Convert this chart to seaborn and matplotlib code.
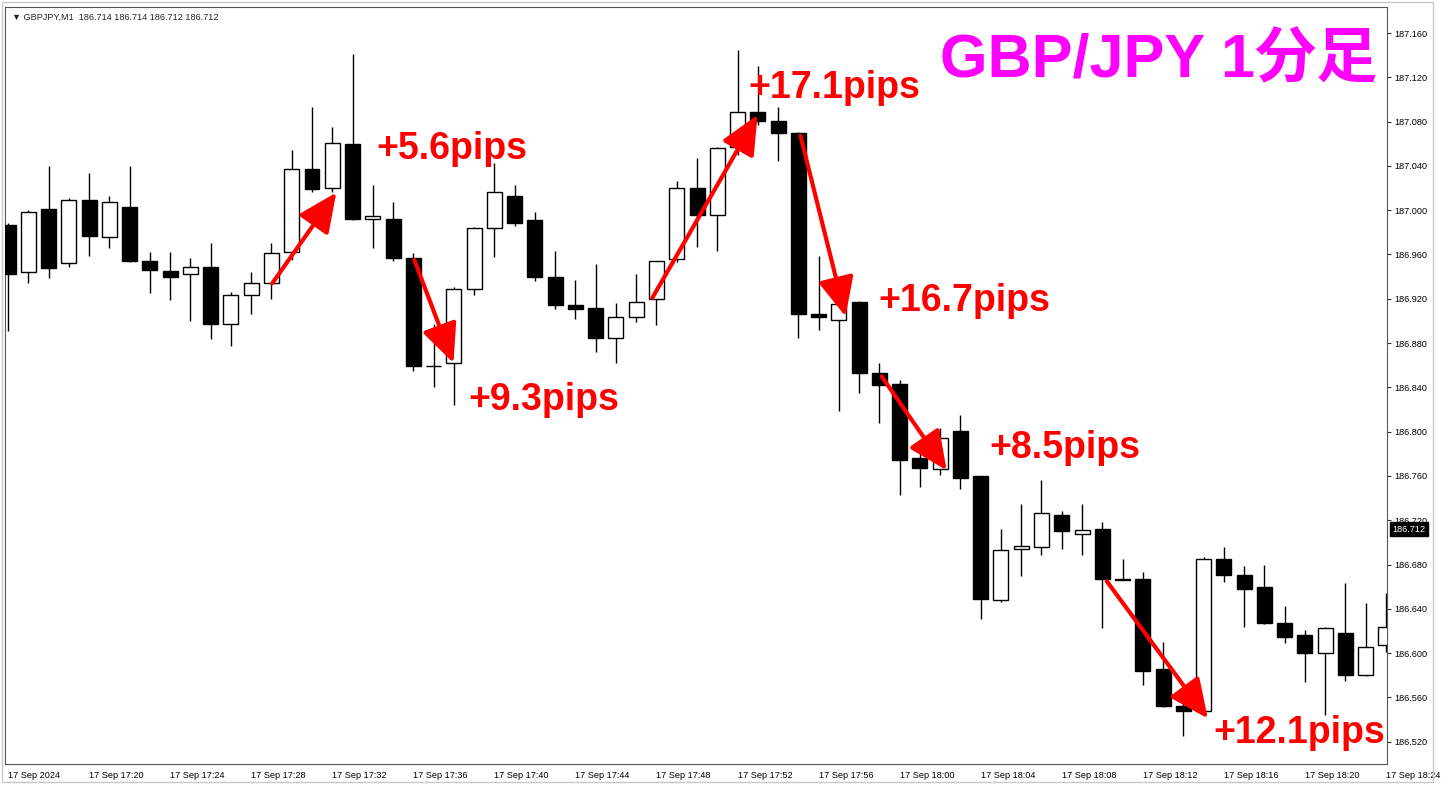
import numpy as np
import matplotlib
matplotlib.use("Agg")
import matplotlib.pyplot as plt
import seaborn as sns
from matplotlib.patches import Rectangle

# GBPJPY M1 bars, 17 Sep 17:16 .. 18:24
opens = [186.987, 186.944, 187.001, 186.952, 187.009, 186.976, 187.003, 186.954, 186.945, 186.942,
         186.949, 186.897, 186.923, 186.934, 186.962, 187.037, 187.020, 187.060, 186.992, 186.992,
         186.957, 186.859, 186.862, 186.929, 186.984, 187.013, 186.991, 186.940, 186.914, 186.912,
         186.885, 186.904, 186.920, 186.956, 187.020, 186.996, 187.057, 187.089, 187.081, 187.070,
         186.906, 186.901, 186.917, 186.853, 186.843, 186.776, 186.766, 186.801, 186.760, 186.648,
         186.694, 186.696, 186.725, 186.708, 186.712, 186.667, 186.667, 186.586, 186.552, 186.548,
         186.685, 186.671, 186.660, 186.627, 186.616, 186.600, 186.618, 186.580, 186.607]
highs = [186.988, 187.000, 187.040, 187.011, 187.034, 187.013, 187.040, 186.962, 186.962, 186.957,
         186.970, 186.926, 186.944, 186.970, 187.054, 187.093, 187.075, 187.141, 187.023, 187.007,
         186.961, 186.897, 186.931, 186.985, 187.043, 187.023, 186.998, 186.963, 186.937, 186.951,
         186.916, 186.942, 186.954, 187.026, 187.047, 187.057, 187.145, 187.130, 187.093, 187.071,
         186.959, 186.916, 186.918, 186.862, 186.847, 186.785, 186.803, 186.815, 186.760, 186.712,
         186.735, 186.756, 186.728, 186.735, 186.718, 186.685, 186.673, 186.610, 186.561, 186.687,
         186.696, 186.679, 186.680, 186.643, 186.621, 186.624, 186.663, 186.645, 186.654]
lows = [186.891, 186.934, 186.939, 186.949, 186.959, 186.966, 186.953, 186.925, 186.919, 186.900,
        186.884, 186.877, 186.906, 186.920, 186.955, 187.016, 187.016, 186.991, 186.966, 186.954,
        186.855, 186.840, 186.824, 186.923, 186.958, 186.986, 186.936, 186.911, 186.902, 186.872,
        186.862, 186.899, 186.896, 186.953, 186.967, 186.963, 187.050, 187.077, 187.044, 186.885,
        186.892, 186.819, 186.835, 186.808, 186.743, 186.750, 186.761, 186.748, 186.631, 186.646,
        186.670, 186.689, 186.694, 186.689, 186.623, 186.666, 186.571, 186.551, 186.525, 186.547,
        186.664, 186.624, 186.626, 186.609, 186.574, 186.544, 186.575, 186.579, 186.601]
closes = [186.942, 186.998, 186.948, 187.009, 186.977, 187.007, 186.954, 186.946, 186.940, 186.949,
          186.897, 186.923, 186.934, 186.961, 187.037, 187.019, 187.061, 186.992, 186.995, 186.957,
          186.859, 186.859, 186.929, 186.984, 187.016, 186.988, 186.940, 186.914, 186.911, 186.885,
          186.904, 186.917, 186.954, 187.020, 186.996, 187.056, 187.089, 187.081, 187.070, 186.906,
          186.904, 186.915, 186.853, 186.842, 186.774, 186.767, 186.794, 186.758, 186.649, 186.693,
          186.697, 186.727, 186.710, 186.711, 186.667, 186.666, 186.584, 186.552, 186.548, 186.685,
          186.671, 186.658, 186.627, 186.615, 186.600, 186.623, 186.580, 186.606, 186.624]

time_labels = ["17 Sep 2024", "17 Sep 17:20", "17 Sep 17:24", "17 Sep 17:28", "17 Sep 17:32",
               "17 Sep 17:36", "17 Sep 17:40", "17 Sep 17:44", "17 Sep 17:48", "17 Sep 17:52",
               "17 Sep 17:56", "17 Sep 18:00", "17 Sep 18:04", "17 Sep 18:08", "17 Sep 18:12",
               "17 Sep 18:16", "17 Sep 18:20", "17 Sep 18:24"]
price_ticks = [186.520, 186.560, 186.600, 186.640, 186.680, 186.720, 186.760, 186.800, 186.840,
               186.880, 186.920, 186.960, 187.000, 187.040, 187.080, 187.120, 187.160]
last_price = 186.712

# move annotations: arrow start/end (bar index, price), label text and its anchor
arrow_from_x = [13.04, 20.05, 31.80, 39.11, 43.11, 54.22]
arrow_from_y = [186.934, 186.955, 186.921, 187.067, 186.850, 186.665]
arrow_to_x = [16.20, 21.98, 36.99, 41.33, 46.32, 59.21]
arrow_to_y = [187.016, 186.862, 187.086, 186.904, 186.765, 186.541]
move_labels = ["+5.6pips", "+9.3pips", "+17.1pips", "+16.7pips", "+8.5pips", "+12.1pips"]
label_x = [18.17, 22.72, 36.54, 42.96, 48.44, 59.46]
label_y = [187.046, 186.820, 187.101, 186.909, 186.776, 186.519]

sns.set_style("white")
plt.rcParams["font.family"] = ["Liberation Sans", "DejaVu Sans"]

W, H = 1453, 794
fig = plt.figure(figsize=(W / 100, H / 100), dpi=100)
ax = fig.add_axes([5 / W, 1 - 764 / H, (1387 - 5) / W, (764 - 7) / H])

o = np.array(opens)
h = np.array(highs)
l = np.array(lows)
c = np.array(closes)
x = np.arange(len(o))
up = c >= o

# wicks then bodies
ax.vlines(x, l, h, color="black", lw=1.0, zorder=2)
body_lo = np.minimum(o, c)
body_h = np.maximum(np.abs(c - o), 0.0006)
ax.bar(x[up], body_h[up], bottom=body_lo[up], width=0.74, color="white",
       edgecolor="black", linewidth=1.0, zorder=3)
ax.bar(x[~up], body_h[~up], bottom=body_lo[~up], width=0.74, color="black",
       edgecolor="black", linewidth=1.0, zorder=3)

ax.set_xlim(-0.15, 68.05)
ax.set_ylim(186.4999, 187.1835)

# axes, MT4 style
ax.yaxis.tick_right()
ax.set_yticks(price_ticks, [f"{p:.3f}" for p in price_ticks])
ax.set_xticks(np.arange(0, len(o), 4), time_labels, ha="left")
ax.tick_params(axis="both", direction="out", length=3, width=0.8, colors="#333333",
               labelsize=6.6, labelcolor="black")
ax.tick_params(axis="y", pad=2)
ax.tick_params(axis="x", pad=2)
for s in ax.spines.values():
    s.set_color("#555555")
    s.set_linewidth(0.8)
ax.grid(False)

ax.annotate(f"{last_price:.3f}", xy=(1.0, last_price), xycoords=("axes fraction", "data"),
            xytext=(4, 0), textcoords="offset points", va="center", ha="left",
            fontsize=6.6, color="white",
            bbox=dict(boxstyle="square,pad=0.25", fc="black", ec="black"),
            annotation_clip=False, zorder=6)

for i in range(len(move_labels)):
    ax.annotate("", xy=(arrow_to_x[i], arrow_to_y[i]), xytext=(arrow_from_x[i], arrow_from_y[i]),
                arrowprops=dict(arrowstyle="-|>,head_length=1.2,head_width=0.55", color="#ff0000",
                                lw=3.0, shrinkA=0, shrinkB=0, mutation_scale=20),
                zorder=5)
    ax.text(label_x[i], label_y[i], move_labels[i], color="#ff0000", fontsize=27,
            fontweight="bold", ha="left", va="baseline", zorder=5)

# header and title
fig.text(12 / W, 1 - 17 / H, "\u25bc GBPJPY,M1  186.714 186.714 186.712 186.712",
         fontsize=6.6, va="center", ha="left", family=["Liberation Sans", "DejaVu Sans"])
fig.text(940 / W, 1 - 62 / H, "GBP/JPY 1分足", color="#ff00ff", fontsize=44,
         fontweight="bold", va="center", ha="left",
         family=["Liberation Sans", "Noto Sans CJK JP"])

# light window frame around chart + price scale
fig.patches.append(Rectangle((2 / W, 1 - 782 / H), 1431 / W, 780 / H, transform=fig.transFigure,
                             fill=False, ec="#c8c8c8", lw=1.0))

fig.savefig("out.png", dpi=100, facecolor="white")
